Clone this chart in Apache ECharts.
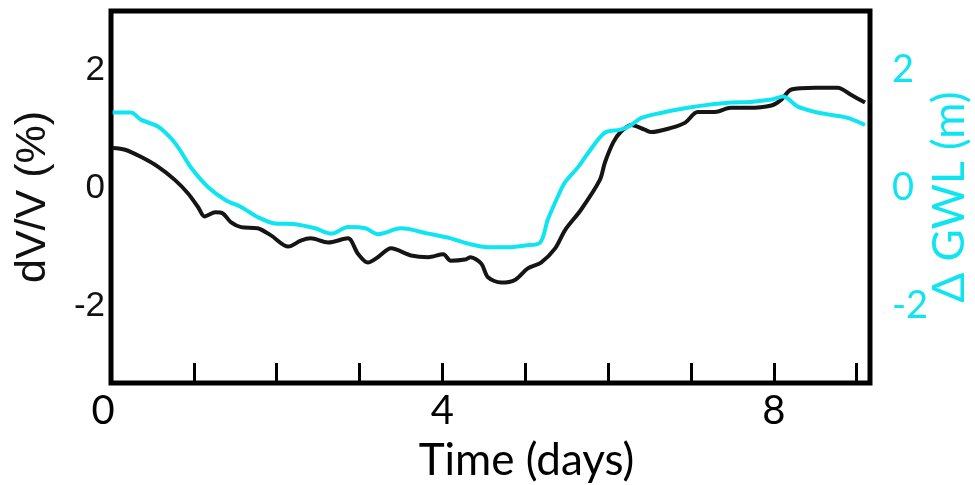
<!DOCTYPE html>
<html>
<head>
<meta charset="utf-8">
<script src="https://cdn.jsdelivr.net/npm/echarts@6/dist/echarts.min.js"></script>
<style>html,body{margin:0;padding:0;background:#fff;}#c{width:975px;height:485px;}</style>
</head>
<body>
<div id="c"></div>
<script>
// Time (days) and values
const dvvDays = [0.02,0.17,0.36,0.57,0.77,0.93,1.05,1.13,1.26,1.35,1.45,1.57,1.77,1.93,2.14,2.29,2.41,2.62,2.86,2.98,3.10,3.22,3.38,3.62,3.83,4.01,4.10,4.27,4.34,4.47,4.55,4.71,4.88,5.03,5.19,5.36,5.48,5.67,5.90,5.96,6.06,6.15,6.28,6.44,6.52,6.76,6.93,7.08,7.29,7.48,7.69,7.97,8.09,8.21,8.50,8.77,8.93,9.10];
const dvvValues = [0.68,0.65,0.53,0.36,0.14,-0.09,-0.32,-0.48,-0.41,-0.43,-0.58,-0.66,-0.68,-0.80,-0.99,-0.89,-0.85,-0.92,-0.85,-1.11,-1.26,-1.17,-1.02,-1.14,-1.17,-1.12,-1.23,-1.21,-1.17,-1.28,-1.51,-1.60,-1.55,-1.36,-1.26,-1.02,-0.71,-0.37,0.14,0.43,0.77,0.95,1.07,0.99,0.95,1.02,1.11,1.29,1.29,1.36,1.36,1.40,1.50,1.67,1.70,1.70,1.58,1.45];
const gwlDays = [0.02,0.24,0.36,0.57,0.72,0.83,0.97,1.17,1.38,1.57,1.77,1.98,2.22,2.46,2.66,2.86,3.07,3.22,3.50,3.83,4.10,4.31,4.55,4.79,5.00,5.18,5.27,5.39,5.48,5.64,5.76,5.96,6.15,6.28,6.40,6.69,6.96,7.20,7.48,7.72,7.97,8.11,8.29,8.50,8.69,8.89,9.10];
const gwlValues = [1.28,1.28,1.16,1.04,0.85,0.65,0.34,0.02,-0.20,-0.32,-0.49,-0.60,-0.61,-0.68,-0.77,-0.66,-0.68,-0.78,-0.68,-0.77,-0.85,-0.94,-1.00,-1.00,-0.97,-0.92,-0.54,-0.15,0.10,0.36,0.60,0.94,0.99,1.07,1.19,1.29,1.36,1.41,1.45,1.46,1.50,1.55,1.38,1.29,1.24,1.19,1.07];
const xTickLabels = [0, 4, 8];
const yTickValues = [-2, 0, 2];
const cyan = '#0fe4f1';

const chart = echarts.init(document.getElementById('c'), null, {renderer: 'canvas'});
chart.setOption({
  animation: false,
  backgroundColor: '#fff',
  grid: {left: 111, right: 105, top: 11, bottom: 102, show: true, borderColor: '#000', borderWidth: 5, backgroundColor: 'transparent', containLabel: false, outerBoundsMode: 'none'},
  xAxis: {
    type: 'value', min: 0, max: 9.16, interval: 1,
    axisLine: {show: false, onZero: false},
    splitLine: {show: false},
    axisTick: {show: true, inside: true, length: 20, lineStyle: {color: '#000', width: 3}},
    axisLabel: {
      showMaxLabel: false,
      margin: 8,
      formatter: v => xTickLabels.includes(v) ? (v === 0 ? '{z|0}' : String(v)) : '',
      color: '#000', fontFamily: 'Lato', fontSize: 40,
      rich: {z: {fontFamily: 'Lato', fontSize: 40, color: '#000', padding: [0, 16, 0, 0]}}
    },
    name: 'Time (days)', nameLocation: 'middle', nameGap: 56, nameMoveOverlap: false,
    nameTextStyle: {fontFamily: 'Lato', fontSize: 44, color: '#000', padding: [0, 0, 0, 72]}
  },
  yAxis: [{
    type: 'value', min: -3.3, max: 3,
    axisLine: {show: false, onZero: false}, splitLine: {show: false},
    axisTick: {show: false},
    axisLabel: {customValues: yTickValues, margin: 6, color: '#111', fontFamily: 'Liberation Sans', fontSize: 35},
    name: 'dV/V (%)', nameLocation: 'middle', nameRotate: 90, nameGap: 56, nameMoveOverlap: false,
    nameTextStyle: {fontFamily: 'Liberation Sans', fontSize: 43, color: '#111'}
  }, {
    type: 'value', min: -3.3, max: 3, position: 'right',
    axisLine: {show: false, onZero: false}, splitLine: {show: false},
    axisTick: {show: false},
    axisLabel: {customValues: yTickValues, margin: 22, color: cyan, fontFamily: 'Lato', fontSize: 38},
    name: 'Δ GWL (m)', nameLocation: 'middle', nameRotate: 90, nameGap: 58, nameMoveOverlap: false,
    nameTextStyle: {fontFamily: 'Lato', fontSize: 44, color: cyan}
  }],
  series: [{
    type: 'line', yAxisIndex: 0, showSymbol: false, smooth: 0.3,
    data: dvvDays.map((d, i) => [d, dvvValues[i]]),
    lineStyle: {color: '#151515', width: 4}
  }, {
    type: 'line', yAxisIndex: 1, showSymbol: false, smooth: 0.3,
    data: gwlDays.map((d, i) => [d, gwlValues[i]]),
    lineStyle: {color: cyan, width: 4}
  }]
});
</script>
</body>
</html>
